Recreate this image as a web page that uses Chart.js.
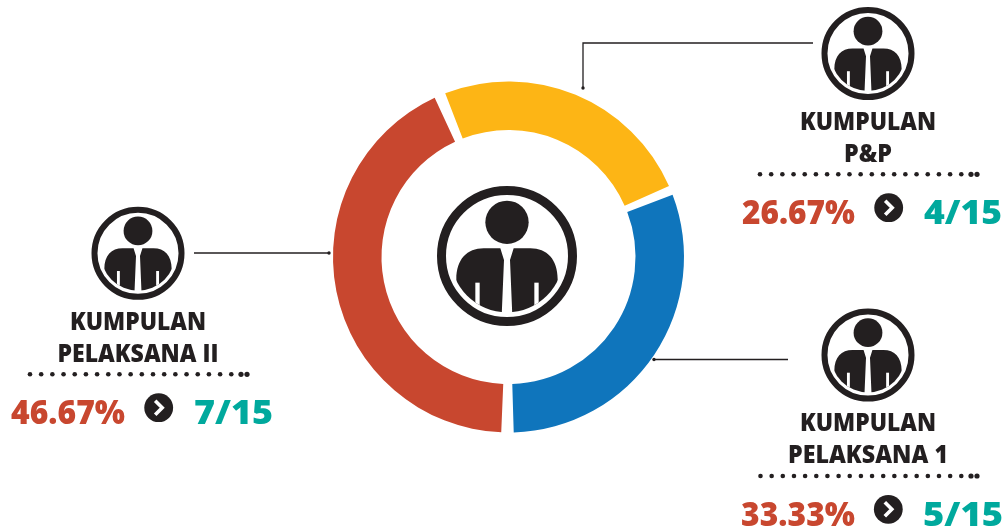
<!DOCTYPE html>
<html><head><meta charset="utf-8">
<style>html,body{margin:0;padding:0;background:#fff}canvas{display:block}</style>
<script src="https://cdn.jsdelivr.net/npm/chart.js@4"></script>
</head><body>
<div style="width:1005px;height:531px;position:relative"><canvas id="c" width="1005" height="531"></canvas></div>
<script>
const categoryLines = [["KUMPULAN","P&P"],["KUMPULAN","PELAKSANA 1"],["KUMPULAN","PELAKSANA II"]];
const percentLabels = ["26.67%","33.33%","46.67%"];
const fractionLabels = ["4/15","5/15","7/15"];
const percentValues = [26.67,33.33,46.67];
const sliceColors = ["#fdb515","#0f75bc","#c8472f"];

const INK="#231f20", RED="#c8472f", TEAL="#00a99d";
const FONT='"Open Sans"';

// annotation layout, one entry per slice
const layout = [
 {icon:[868,53.5], cx:868, b1:130, w1:136, b2:162.3, w2:48, dots:[760,977,174.3], pct:[742,855,224], badge:[888.7,207.7], fr:[924,1002,224], lead:[[813,43],[583,43],[583,88]]},
 {icon:[868,355], cx:868, b1:430.7, w1:136, b2:463.3, w2:160, dots:[760.5,977,476], pct:[741,855,526], badge:[888.3,509.3], fr:[923,1003,526], lead:[[788,359.5],[654,359.5]]},
 {icon:[138,253.3], cx:138, b1:330, w1:136, b2:362.3, w2:161, dots:[30,247,374.3], pct:[11,125,424], badge:[158.7,407.7], fr:[194,273,424], lead:[[194,253],[329,253]]}
];

function person(ctx,x,y,R){
  const s=R/210;
  ctx.save();ctx.translate(x,y);ctx.scale(s,s);
  ctx.fillStyle=INK;ctx.strokeStyle=INK;
  ctx.lineWidth=27;ctx.beginPath();ctx.arc(0,0,196.5,0,Math.PI*2);ctx.stroke();
  ctx.beginPath();ctx.arc(0,-101,65,0,Math.PI*2);ctx.fill();
  ctx.save();
  ctx.beginPath();ctx.arc(0,0,169,0,Math.PI*2);ctx.clip();
  for(const d of [-1,1]){
    ctx.beginPath();
    ctx.moveTo(d*20,-23);
    ctx.lineTo(d*9,12);
    ctx.lineTo(d*16,180);
    ctx.lineTo(d*160,180);
    ctx.lineTo(d*152,70);
    ctx.bezierCurveTo(d*152,10,d*120,-23,d*70,-23);
    ctx.closePath();ctx.fill();
    ctx.fillStyle="#fff";
    ctx.fillRect(d>0?82:-95,80,13,110);
    ctx.fillStyle=INK;
  }
  ctx.restore();
  ctx.restore();
}
function fitText(ctx,t,x0,x1,b,font,color){
  ctx.save();ctx.font=font;ctx.fillStyle=color;ctx.textAlign="left";ctx.textBaseline="alphabetic";
  const w=ctx.measureText(t).width, k=(x1-x0)/w;
  ctx.translate(x0,b);ctx.scale(k,1);ctx.fillText(t,0,0);ctx.restore();
}
const annotations={id:"annotations",afterDatasetsDraw(chart){
  const ctx=chart.ctx;
  const a=chart.getDatasetMeta(0).data[0];
  person(ctx,a.x-1.5,a.y-1,70);
  layout.forEach((g,i)=>{
    person(ctx,g.icon[0],g.icon[1],46.5);
    const [l1,l2]=categoryLines[i];
    fitText(ctx,l1,g.cx-g.w1/2,g.cx+g.w1/2,g.b1,"800 25px "+FONT,INK);
    fitText(ctx,l2,g.cx-g.w2/2,g.cx+g.w2/2,g.b2,"800 25px "+FONT,INK);
    // dotted rule
    ctx.fillStyle=INK;
    const [d0,d1,dy]=g.dots, step=(d1-d0-9)/18.6;
    for(let k=0;k<19;k++){ctx.beginPath();ctx.arc(d0+k*step,dy,2.3,0,Math.PI*2);ctx.fill();}
    for(const dx of [6,0]){ctx.beginPath();ctx.arc(d1-dx,dy,2.6,0,Math.PI*2);ctx.fill();}
    fitText(ctx,percentLabels[i],g.pct[0],g.pct[1],g.pct[2],"800 34px "+FONT,RED);
    fitText(ctx,fractionLabels[i],g.fr[0],g.fr[1],g.fr[2],"800 34px "+FONT,TEAL);
    // badge
    ctx.beginPath();ctx.arc(g.badge[0],g.badge[1],14.4,0,Math.PI*2);ctx.fillStyle=INK;ctx.fill();
    ctx.beginPath();ctx.moveTo(g.badge[0]-3.5,g.badge[1]-7);ctx.lineTo(g.badge[0]+3.5,g.badge[1]);ctx.lineTo(g.badge[0]-3.5,g.badge[1]+7);
    ctx.strokeStyle="#fff";ctx.lineWidth=3.6;ctx.stroke();
    // leader
    ctx.beginPath();g.lead.forEach((p,k)=>k?ctx.lineTo(p[0],p[1]):ctx.moveTo(p[0],p[1]));
    ctx.strokeStyle=INK;ctx.lineWidth=1.3;ctx.stroke();
    const e=g.lead[g.lead.length-1];
    ctx.beginPath();ctx.arc(e[0],e[1],1.7,0,Math.PI*2);ctx.fillStyle=INK;ctx.fill();
  });
}};
new Chart(document.getElementById("c"),{
  type:"doughnut",
  data:{labels:categoryLines.map(l=>l.join(" ")),datasets:[{data:percentValues,backgroundColor:sliceColors,borderWidth:0,spacing:9}]},
  options:{responsive:false,animation:false,rotation:-22.5,radius:171,cutout:"71.64%",
    layout:{padding:{left:12,bottom:17}},
    plugins:{legend:{display:false},tooltip:{enabled:false}}},
  plugins:[annotations]
});
</script>
</body></html>
